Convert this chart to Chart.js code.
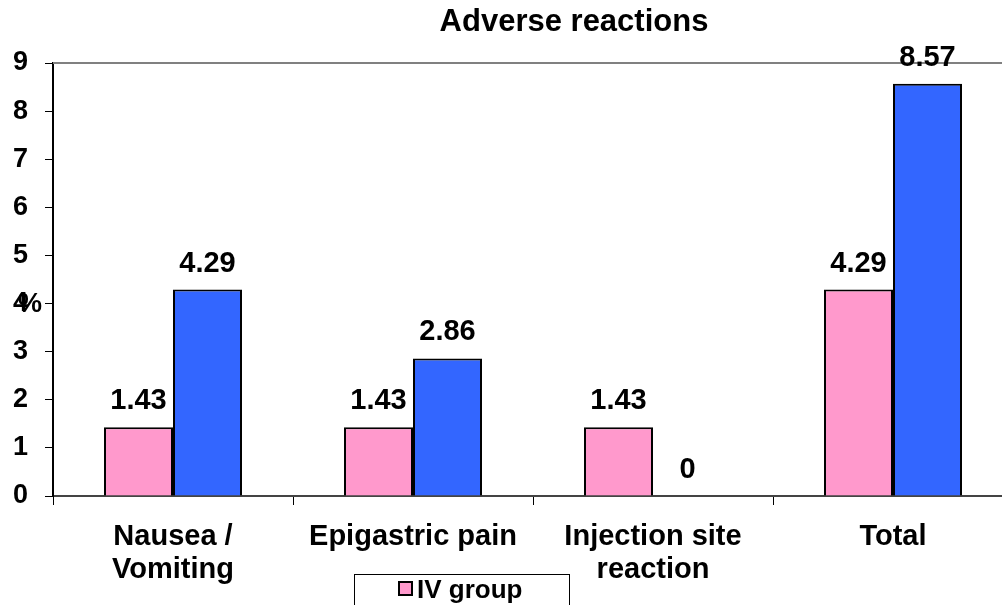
<!DOCTYPE html>
<html>
<head>
<meta charset="utf-8">
<script src="https://cdn.jsdelivr.net/npm/chart.js@4.4.1/dist/chart.umd.min.js"></script>
<style>
  html, body { margin: 0; padding: 0; background: #fff; overflow: hidden; }
  #wrap { width: 1020px; height: 605px; position: relative; }
</style>
</head>
<body>
<div id="wrap"><canvas id="myChart"></canvas></div>
<script>
const categories = [['Nausea /', 'Vomiting'], 'Epigastric pain', ['Injection site', 'reaction'], 'Total'];
const ivGroup = [1.43, 1.43, 1.43, 4.29];
const secondGroup = [4.29, 2.86, 0, 8.57];
const yTicks = [0, 1, 2, 3, 4, 5, 6, 7, 8, 9];

const FONT = '"Liberation Sans", Arial, sans-serif';

// value labels, title, "%" and the clipped legend box
const extras = {
    id: 'extras',
    afterDatasetsDraw(chart) {
        const c = chart.ctx;
        const area = chart.chartArea;
        c.save();

        // grey top border of plot
        c.strokeStyle = '#808080';
        c.lineWidth = 2;
        c.beginPath();
        c.moveTo(area.left, area.top);
        c.lineTo(area.right, area.top);
        c.stroke();

        c.fillStyle = '#000';
        c.textAlign = 'center';
        c.textBaseline = 'alphabetic';
        c.font = 'bold 29px ' + FONT;
        chart.data.datasets.forEach((ds, i) => {
            chart.getDatasetMeta(i).data.forEach((bar, j) => {
                c.fillText(String(ds.data[j]), bar.x, bar.y - 18);
            });
        });

        c.font = 'bold 31px ' + FONT;
        c.fillText('Adverse reactions', 574, 31);

        c.font = 'bold 27px ' + FONT;
        c.textBaseline = 'middle';
        c.fillText('%', 30, 305);

        // legend (only first entry visible)
        c.strokeStyle = '#000';
        c.lineWidth = 1;
        c.strokeRect(354.5, 574.5, 215, 60);
        const ds0 = chart.data.datasets[0];
        c.fillStyle = ds0.backgroundColor;
        c.fillRect(399, 582, 13, 13);
        c.lineWidth = 2;
        c.strokeRect(399, 582, 13, 13);
        c.fillStyle = '#000';
        c.textAlign = 'left';
        c.textBaseline = 'alphabetic';
        c.font = 'bold 26px ' + FONT;
        c.fillText(ds0.label, 417, 598);

        c.restore();
    }
};

const ctx = document.getElementById('myChart').getContext('2d');

const myChart = new Chart(ctx, {
    type: 'bar',
    data: {
        labels: categories,
        datasets: [{
            label: 'IV group',
            data: ivGroup,
            backgroundColor: '#FF99CC',
            borderColor: '#000',
            borderWidth: 2,
            categoryPercentage: 0.575,
            barPercentage: 1.0
        }, {
            label: 'IM group',
            data: secondGroup,
            backgroundColor: '#3366FF',
            borderColor: '#000',
            borderWidth: 2,
            categoryPercentage: 0.575,
            barPercentage: 1.0
        }]
    },
    options: {
        responsive: true,
        maintainAspectRatio: false,
        animation: false,
        layout: { padding: { top: 63, right: 7, left: 0, bottom: 0 } },
        plugins: {
            legend: { display: false },
            title: { display: false },
            tooltip: { enabled: false }
        },
        scales: {
            x: {
                afterFit: s => { s.height = 109; },
                grid: { drawOnChartArea: false, tickLength: 9, color: '#000', lineWidth: 1 },
                border: { color: '#444', width: 2 },
                ticks: {
                    color: '#000',
                    padding: 15,
                    font: { family: FONT, size: 29, weight: 'bold', lineHeight: 1.14 }
                }
            },
            y: {
                min: 0,
                max: 9,
                afterFit: s => { s.width = 53; },
                afterBuildTicks: s => { s.ticks = yTicks.map(v => ({ value: v })); },
                grid: { drawOnChartArea: false, tickLength: 8, color: '#000', lineWidth: 1 },
                border: { color: '#000', width: 2 },
                ticks: {
                    color: '#000',
                    padding: 17,
                    font: { family: FONT, size: 27, weight: 'bold' }
                }
            }
        }
    },
    plugins: [extras]
});
</script>
</body>
</html>
